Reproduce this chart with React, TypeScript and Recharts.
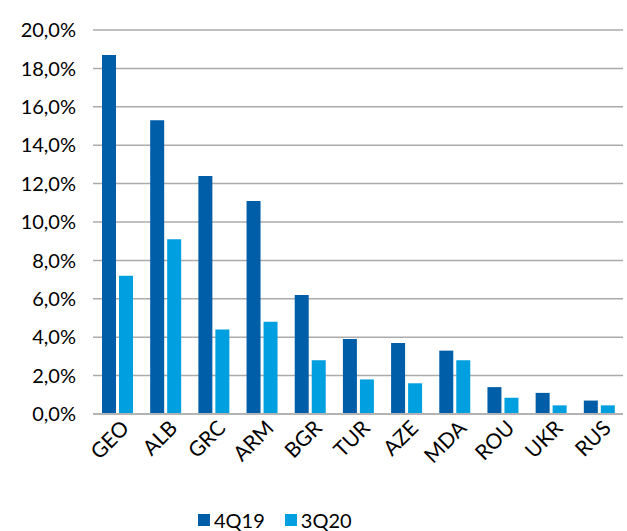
import React from "react";
import { BarChart, Bar, XAxis, YAxis, CartesianGrid, Legend } from "recharts";

const categories = ["GEO", "ALB", "GRC", "ARM", "BGR", "TUR", "AZE", "MDA", "ROU", "UKR", "RUS"];
const series4Q19 = [18.7, 15.3, 12.4, 11.1, 6.2, 3.9, 3.7, 3.3, 1.4, 1.1, 0.7];
const series3Q20 = [7.2, 9.1, 4.4, 4.8, 2.8, 1.8, 1.6, 2.8, 0.85, 0.45, 0.45];
const yTicks = [0, 2, 4, 6, 8, 10, 12, 14, 16, 18, 20];
const seriesNames = ["4Q19", "3Q20"];
const colors = ["#005EA8", "#00A0E0"];

const data = categories.map((c, i) => ({ name: c, a: series4Q19[i], b: series3Q20[i] }));

const FONT = "Lato, 'Open Sans', sans-serif";

const fmt = (v: number) => v.toFixed(1).replace(".", ",") + "%";

const XTick = (props: any) => {
  const { x, y, payload } = props;
  return (
    <g transform={`translate(${x + 3},${y - 3})`}>
      <text transform="rotate(-45)" textAnchor="end" dy="0.7em" fill="#000" fontSize={21} fontFamily={FONT}>
        {payload.value}
      </text>
    </g>
  );
};

const LegendContent = () => (
  <div style={{ height: 47, boxSizing: "border-box", display: "flex", justifyContent: "flex-start", alignItems: "flex-start", fontFamily: FONT, fontSize: 20, color: "#000", paddingLeft: 198, paddingTop: 25 }}>
    {seriesNames.map((n, i) => (
      <div key={n} style={{ display: "flex", alignItems: "center", marginRight: i === 0 ? 20 : 0, height: 22 }}>
        <span style={{ display: "inline-block", width: 12, height: 12, background: colors[i], marginRight: 4 }} />
        <span style={{ lineHeight: "22px" }}>{n}</span>
      </div>
    ))}
  </div>
);

export default function App() {
  return (
    <div style={{ position: "absolute", left: 0, top: 0, width: 627, height: 531, background: "#fff" }}>
      <BarChart
        width={627}
        height={531}
        data={data}
        margin={{ top: 30, right: 4, left: 0, bottom: 0 }}
        barSize={14}
        barGap={3}
      >
        <CartesianGrid vertical={false} stroke="#ababab" strokeWidth={1.5} />
        <XAxis
          dataKey="name"
          interval={0}
          height={70}
          tick={<XTick />}
          tickLine={false}
          axisLine={{ stroke: "#b3b3b3", strokeWidth: 2 }}
        />
        <YAxis
          width={93}
          domain={[0, 20]}
          ticks={yTicks}
          tickFormatter={fmt}
          tickLine={false}
          axisLine={false}
          tickMargin={11}
          tick={{ fill: "#000", fontSize: 20, fontFamily: FONT }}
        />
        <Legend verticalAlign="bottom" content={<LegendContent />} wrapperStyle={{ height: 47 }} />
        <Bar dataKey="a" name={seriesNames[0]} fill={colors[0]} isAnimationActive={false} />
        <Bar dataKey="b" name={seriesNames[1]} fill={colors[1]} isAnimationActive={false} />
      </BarChart>
    </div>
  );
}
